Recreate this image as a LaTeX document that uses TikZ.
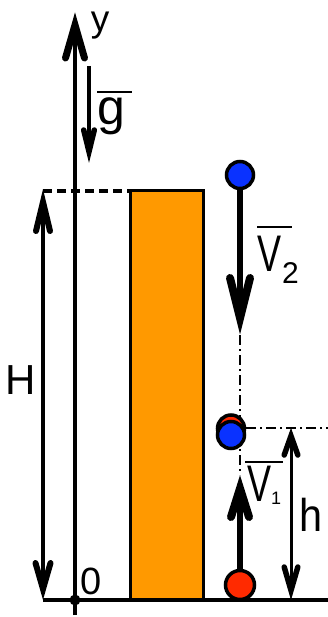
\documentclass[tikz,border=0pt]{standalone}
\usepackage{fontspec}
\setmainfont{Liberation Sans}
\definecolor{blockorange}{HTML}{FF9900}
\definecolor{ballblue}{HTML}{0A32FF}
\definecolor{ballred}{HTML}{FF2A00}
\newcommand{\fs}[1]{\fontsize{#1}{#1}\selectfont}
\tikzset{
  lbl/.style={inner sep=0pt,anchor=center},
  ball/.style={circle,draw=black,line width=3.5pt,minimum size=27pt,inner sep=0pt},
  thickline/.style={line width=3.2pt},
  dashdot/.style={line width=1.6pt,dash pattern=on 10pt off 4pt on 2pt off 4pt},
  bar/.style={line width=2.5pt},
  head/.style={line join=miter,miter limit=20,line cap=round},
}
\begin{document}
\begin{tikzpicture}[x=1pt,y=-1pt]
\useasboundingbox (0,0) rectangle (328,617);
% coordinates
\coordinate (A0) at (75,615);
\coordinate (Av) at (75,25);
\coordinate (AL) at (65.5,58);
\coordinate (AR) at (84.5,58);
\coordinate (G0) at (43,600);
\coordinate (G1) at (328,600);
\coordinate (Htop) at (43,191);
\coordinate (Hv1) at (43,202);
\coordinate (HL1) at (36,231);
\coordinate (HR1) at (50,231);
\coordinate (Hv2) at (43,589);
\coordinate (HL2) at (35.5,563);
\coordinate (HR2) at (50.5,563);
\coordinate (Btl) at (130,191);
\coordinate (Bbr) at (203,600);
\coordinate (g0) at (89,66);
\coordinate (gv) at (89,151.5);
\coordinate (gL) at (83.7,130);
\coordinate (gR) at (94.3,130);
\coordinate (V2tip) at (240,335);
\coordinate (V2v) at (240,318);
\coordinate (V2L) at (230,278);
\coordinate (V2R) at (250,278);
\coordinate (V1tip) at (240,475);
\coordinate (V1v) at (240,488.5);
\coordinate (V1L) at (231,517);
\coordinate (V1R) at (249,517);
\coordinate (hl0) at (246,428);
\coordinate (hl1) at (328,428);
\coordinate (hv1) at (291,436);
\coordinate (hL1) at (284.2,455);
\coordinate (hR1) at (297.8,455);
\coordinate (hv2) at (291,590.3);
\coordinate (hL2) at (284.2,567);
\coordinate (hR2) at (297.8,567);
% block
\draw[line width=3pt,fill=blockorange] (Btl) rectangle (Bbr);
% dashed line to H top
\draw[line width=3.5pt,dash pattern=on 9pt off 5pt] (Htop) -- (Btl);
% ground
\draw[thickline] (G0) -- (G1);
% y axis
\draw[line width=4.5pt] (A0) -- (Av);
\draw[line width=7pt,head] (AL) -- (Av) -- (AR);
\node[circle,fill=black,minimum size=11pt,inner sep=0pt] (O) at (75,600) {};
% g arrow
\draw[line width=3.5pt] (g0) -- (gv);
\draw[line width=5.5pt,head] (gL) -- (gv) -- (gR);
% H arrow
\draw[line width=3.5pt] (Hv1) -- (Hv2);
\draw[line width=6pt,head] (HL1) -- (Hv1) -- (HR1);
\draw[line width=6pt,head] (HL2) -- (Hv2) -- (HR2);
% vertical dash-dot
\draw[dashdot] (V2tip) -- (V1tip);
% horizontal dash-dot
\draw[dashdot] (hl0) -- (hl1);
% h arrow
\draw[line width=3pt] (hv1) -- (hv2);
\draw[line width=5.5pt,head] (hL1) -- (hv1) -- (hR1);
\draw[line width=5.5pt,head] (hL2) -- (hv2) -- (hR2);
% balls
\node[ball,fill=ballblue] (b2) at (240,175) {};
\draw[line width=5.5pt] (b2.south) -- (V2v);
\draw[line width=8pt,head] (V2L) -- (V2v) -- (V2R);
\node[ball,fill=ballred] (rm) at (231,428.5) {};
\node[ball,fill=ballblue] (bm) at (231,435) {};
\node[ball,fill=ballred,minimum size=29pt] (b1) at (240,585) {};
\draw[line width=5.5pt] (b1.north) -- (V1v);
\draw[line width=8pt,head] (V1L) -- (V1v) -- (V1R);
% labels
\node[lbl] (ly) at (100,26) {\fs{37}y};
\node[lbl] (lg) at (111.5,116) {\fs{50}g};
\draw[bar] (97,92) -- (132,92);
\node[lbl] (lH) at (20.5,380) {\fs{42}H};
\node[lbl] (l0) at (91,581.5) {\fs{38}0};
\node[lbl] (lV2) at (270,253.5) {\fs{36}\scalebox{1}[1.43]{V}};
\node[lbl] (l2) at (290.5,273) {\fs{30}2};
\draw[bar] (257,227) -- (292,227);
\node[lbl] (lV1) at (260,484) {\fs{36}\scalebox{1}[1.43]{V}};
\node[lbl] (l1) at (276,498.5) {\fs{18}1};
\draw[bar] (245,462) -- (283,462);
\node[lbl] (lh) at (311,515) {\fs{46}\scalebox{0.9}[1]{h}};
\end{tikzpicture}
\end{document}
